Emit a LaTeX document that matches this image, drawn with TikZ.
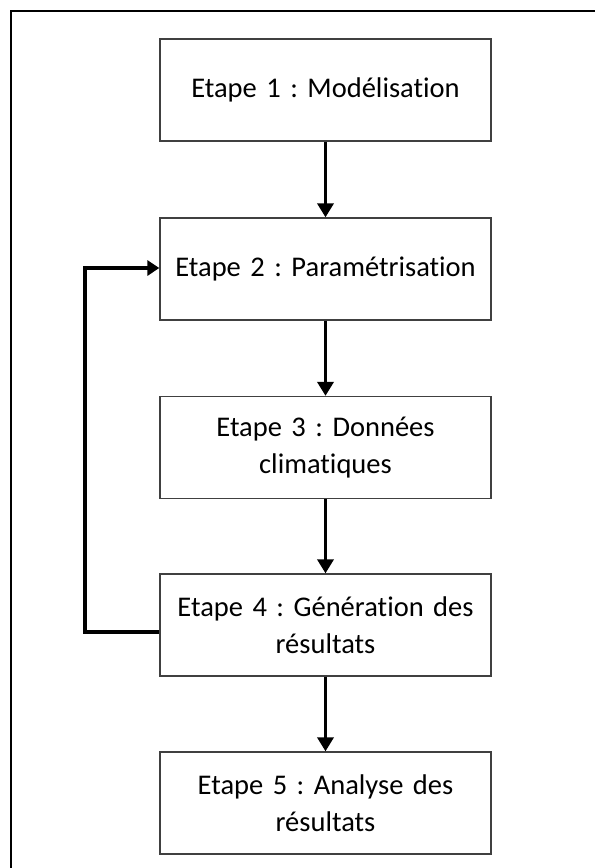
\documentclass[tikz,border=0pt]{standalone}
\usepackage{fontspec}
\setmainfont{Carlito}[Ligatures=NoCommon]
\usetikzlibrary{arrows.meta}
\begin{document}
\frenchspacing
\begin{tikzpicture}[x=1pt,y=1pt,
  stepbox/.style={draw=black!75, line width=1.3pt, minimum width=331pt, minimum height=102pt,
    text width=325pt, align=center, inner sep=0pt,
    font=\fontsize{28.5}{37}\selectfont\frenchspacing},
  flow/.style={line width=3.5pt, -{Triangle[width=16pt,length=14pt]}},
  back/.style={line width=3.5pt, -{Triangle[width=15pt,length=12pt]}}]
\useasboundingbox (0,0) rectangle (595,-868);
\draw[line width=2pt] (10.5,-868) -- (10.5,-10.5) -- (595,-10.5);
\node[stepbox] (b1) at (325.5,-90) {Etape 1 : Modélisation};
\node[stepbox] (b2) at (325.5,-269) {Etape 2 : Paramétrisation};
\node[stepbox] (b3) at (325.5,-447.5) {Etape 3 : Données\\climatiques};
\node[stepbox] (b4) at (325.5,-625) {Etape 4 : Génération des\\résultats};
\node[stepbox] (b5) at (325.5,-803) {Etape 5 : Analyse des\\résultats};
\draw[flow] (b1) -- (b2);
\draw[flow] (b2) -- (b3);
\draw[flow] (b3) -- (b4);
\draw[flow] (b4) -- (b5);
\coordinate (c4) at ([yshift=-7pt]b4.west);
\draw[back] (c4) -- (85,-632) -- (85,-268) -- ([yshift=1pt]b2.west);
\end{tikzpicture}
\end{document}
